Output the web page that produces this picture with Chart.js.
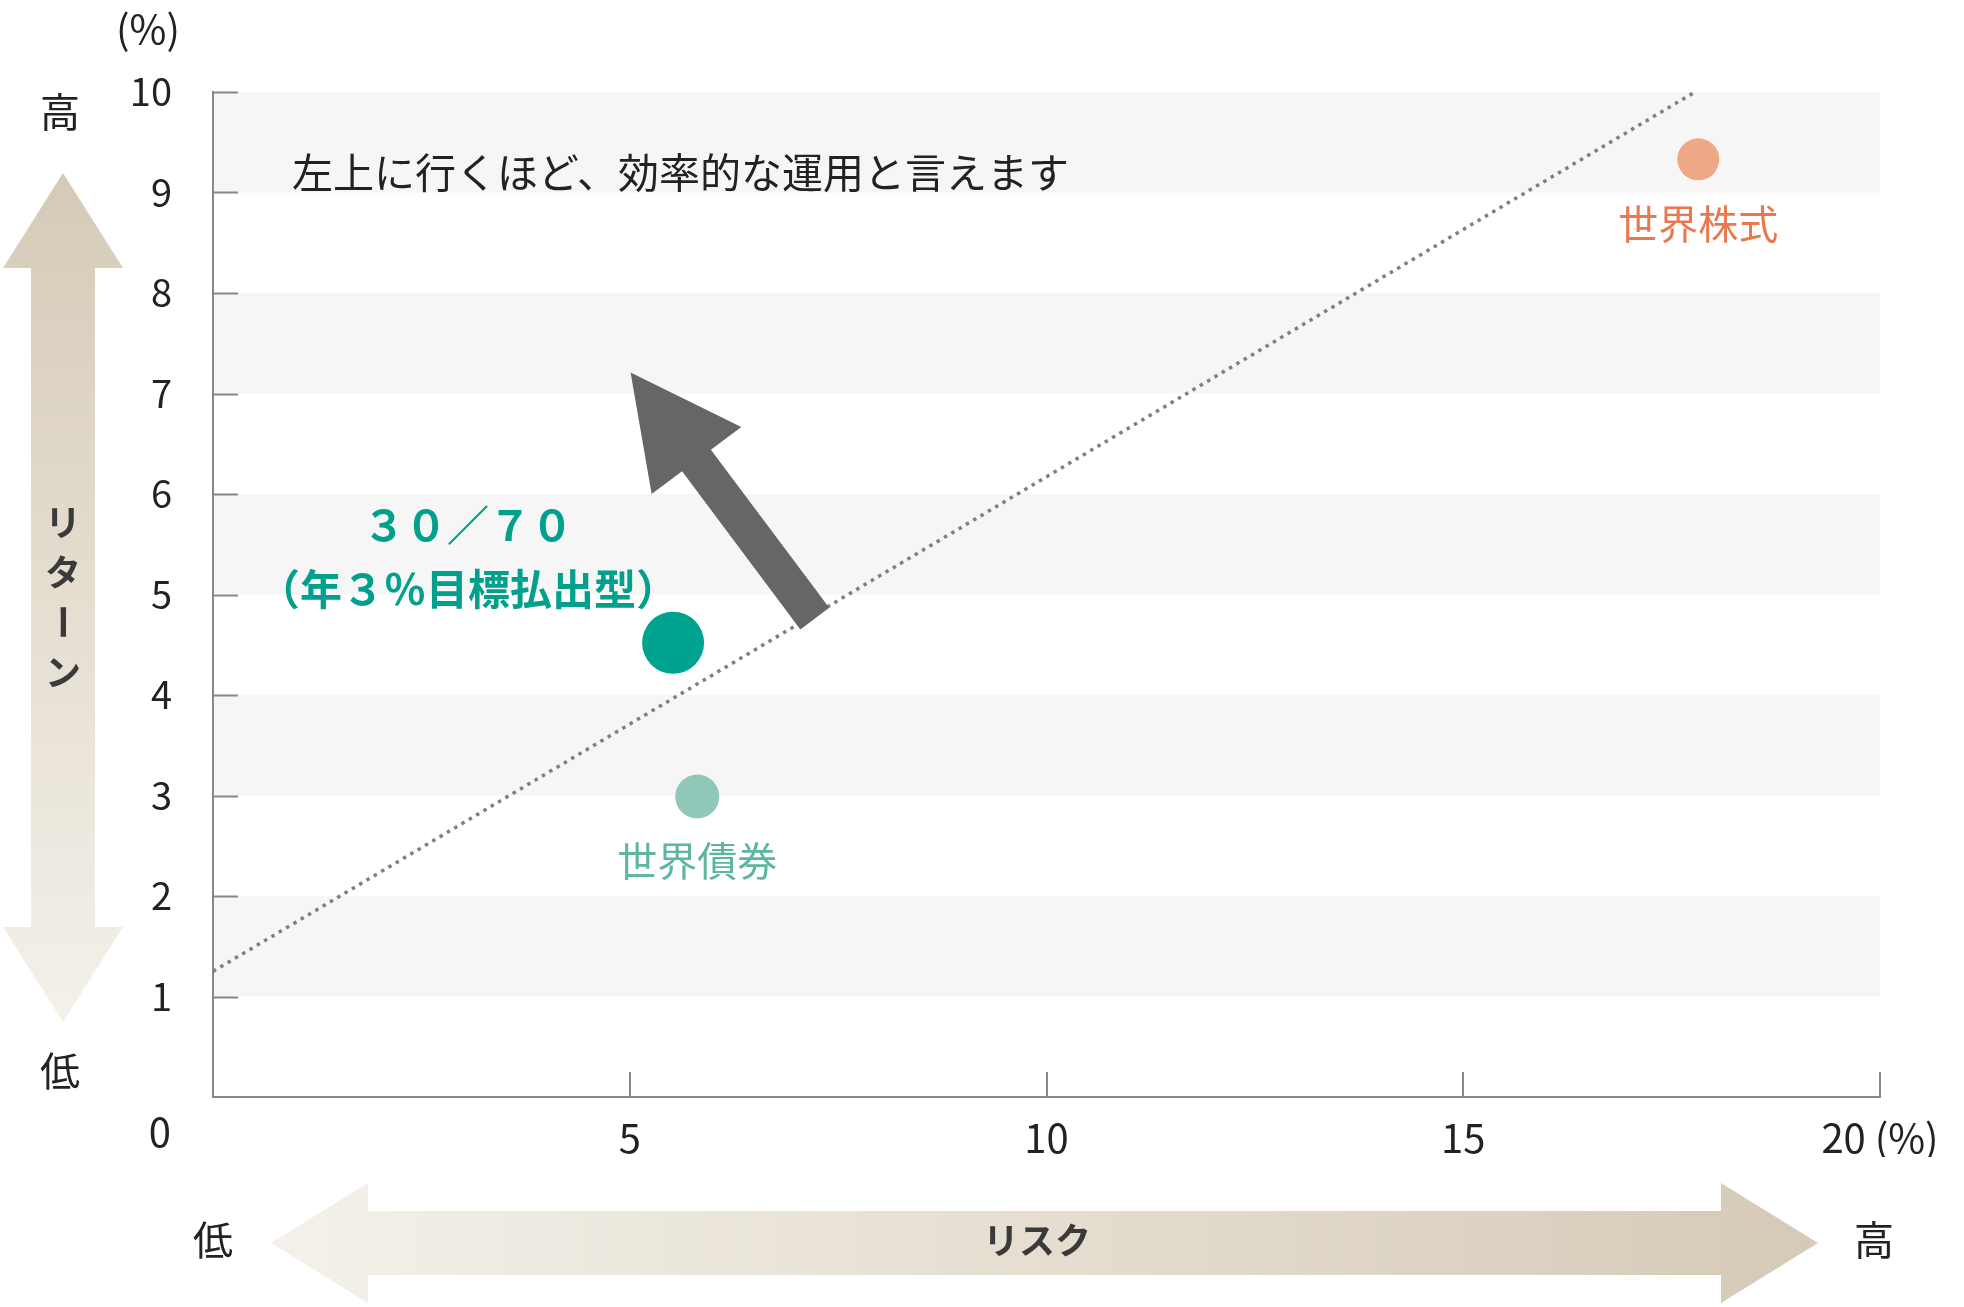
<!DOCTYPE html>
<html lang="ja">
<head>
<meta charset="utf-8">
<title>リスクとリターン</title>
<script src="https://cdn.jsdelivr.net/npm/chart.js@4.4.1/dist/chart.umd.min.js"></script>
<style>
  html, body { margin: 0; padding: 0; background: #fff; }
  #wrap { width: 1964px; height: 1307px; }
</style>
</head>
<body>
<div id="wrap"><canvas id="chart" width="1964" height="1307"></canvas></div>
<script>
const FONT = '"Noto Sans CJK JP", "Noto Sans", sans-serif';

// points: risk (x) / return (y), in %
const assetNames = ["世界株式", "３０／７０", "世界債券"];
const assetNotes = ["", "（年３％目標払出型）", ""];
const riskValues = [17.82, 5.52, 5.81];
const returnValues = [9.33, 4.52, 2.99];

// dotted reference line
const lineRisk = [0, 17.78];
const lineReturn = [1.25, 10];

// big grey arrow (tail -> tip)
const arrowRisk = [7.22, 5.01];
const arrowReturn = [4.76, 7.21];

// axes
const xTicks = [0, 5, 10, 15, 20];
const yTicks = [0, 1, 2, 3, 4, 5, 6, 7, 8, 9, 10];
const bandRanges = [[1, 2], [3, 4], [5, 6], [7, 8], [9, 10]];

const pointColors = ["#eea886", "#00a38f", "#8fc7b9"];
const pointSizes = [21, 31, 22];
const labelColors = ["#e8794f", "#00a08c", "#5db6a4"];

function arrowShape(ctx, x1, y1, x2, y2, shaftW, headL, headW) {
  // tail (x1,y1) -> tip (x2,y2)
  const a = Math.atan2(y2 - y1, x2 - x1);
  const len = Math.hypot(x2 - x1, y2 - y1);
  ctx.save();
  ctx.translate(x1, y1);
  ctx.rotate(a);
  ctx.beginPath();
  ctx.moveTo(0, -shaftW / 2);
  ctx.lineTo(len - headL, -shaftW / 2);
  ctx.lineTo(len - headL, -headW / 2);
  ctx.lineTo(len, 0);
  ctx.lineTo(len - headL, headW / 2);
  ctx.lineTo(len - headL, shaftW / 2);
  ctx.lineTo(0, shaftW / 2);
  ctx.closePath();
  ctx.restore();
}

function doubleArrow(ctx, x1, y1, x2, y2, shaftW, headL, headW) {
  const a = Math.atan2(y2 - y1, x2 - x1);
  const len = Math.hypot(x2 - x1, y2 - y1);
  ctx.save();
  ctx.translate(x1, y1);
  ctx.rotate(a);
  ctx.beginPath();
  ctx.moveTo(0, 0);
  ctx.lineTo(headL, -headW / 2);
  ctx.lineTo(headL, -shaftW / 2);
  ctx.lineTo(len - headL, -shaftW / 2);
  ctx.lineTo(len - headL, -headW / 2);
  ctx.lineTo(len, 0);
  ctx.lineTo(len - headL, headW / 2);
  ctx.lineTo(len - headL, shaftW / 2);
  ctx.lineTo(headL, shaftW / 2);
  ctx.lineTo(headL, headW / 2);
  ctx.closePath();
  ctx.restore();
}

const decor = {
  id: "decor",
  beforeDraw(chart) {
    const { ctx, chartArea: ca, scales: { y } } = chart;
    ctx.save();
    ctx.fillStyle = "#fff";
    ctx.fillRect(0, 0, chart.width, chart.height);
    ctx.fillStyle = "#f6f6f6";
    bandRanges.forEach(([lo, hi]) => {
      const top = y.getPixelForValue(hi);
      const bot = y.getPixelForValue(lo);
      ctx.fillRect(ca.left, top, ca.right - ca.left, bot - top);
    });
    ctx.restore();
  },
  afterDatasetsDraw(chart) {
    const { ctx, chartArea: ca, scales: { x, y } } = chart;
    ctx.save();

    // inward tick marks
    ctx.strokeStyle = "#888";
    ctx.lineWidth = 2;
    ctx.beginPath();
    yTicks.filter(v => v > 0).forEach(v => {
      const py = Math.round(y.getPixelForValue(v)) + 0.5;
      ctx.moveTo(ca.left, py);
      ctx.lineTo(ca.left + 25, py);
    });
    xTicks.filter(v => v > 0).forEach(v => {
      const px = Math.round(x.getPixelForValue(v));
      ctx.moveTo(px, ca.bottom);
      ctx.lineTo(px, ca.bottom - 25);
    });
    ctx.stroke();

    // grey arrow
    arrowShape(ctx,
      x.getPixelForValue(arrowRisk[0]), y.getPixelForValue(arrowReturn[0]),
      x.getPixelForValue(arrowRisk[1]), y.getPixelForValue(arrowReturn[1]),
      36, 110, 112);
    ctx.fillStyle = "#666";
    ctx.fill();

    // point labels
    const meta = chart.getDatasetMeta(1);
    ctx.textAlign = "center";
    ctx.textBaseline = "middle";
    meta.data.forEach((pt, i) => {
      ctx.fillStyle = labelColors[i];
      if (assetNotes[i]) {
        ctx.font = "700 42px " + FONT;
        ctx.fillText(assetNames[i], pt.x - 205, pt.y - 118);
        ctx.fillText(assetNotes[i], pt.x - 205, pt.y - 54);
      } else {
        ctx.font = "400 40px " + FONT;
        ctx.fillText(assetNames[i], pt.x, pt.y + 64);
      }
    });

    // note
    ctx.fillStyle = "#222";
    ctx.font = "400 41px " + FONT;
    ctx.textAlign = "left";
    ctx.fillText("左上に行くほど、効率的な運用と言えます", ca.left + 79, y.getPixelForValue(9.2));
    ctx.restore();
  },
  afterDraw(chart) {
    const { ctx, chartArea: ca } = chart;
    ctx.save();
    ctx.fillStyle = "#222";
    ctx.textBaseline = "middle";
    ctx.font = "400 40px " + FONT;

    // origin and unit labels
    ctx.textAlign = "right";
    ctx.fillText("0", ca.left - 42, ca.bottom + 35);
    ctx.textAlign = "center";
    ctx.fillText("(%)", 148, 29);

    // vertical return arrow
    let g = ctx.createLinearGradient(0, 173, 0, 1022);
    g.addColorStop(0, "#d5cab7");
    g.addColorStop(1, "#f4f1ea");
    doubleArrow(ctx, 63, 1022, 63, 173, 64, 95, 120);
    ctx.fillStyle = g;
    ctx.fill();

    // horizontal risk arrow
    g = ctx.createLinearGradient(271, 0, 1818, 0);
    g.addColorStop(0, "#f4f1ea");
    g.addColorStop(1, "#d5cab7");
    doubleArrow(ctx, 271, 1243, 1818, 1243, 64, 97, 120);
    ctx.fillStyle = g;
    ctx.fill();

    ctx.fillStyle = "#222";
    ctx.font = "400 40px " + FONT;
    ctx.fillText("高", 60, 112);
    ctx.fillText("低", 60, 1071);
    ctx.fillText("低", 213, 1240);
    ctx.fillText("高", 1874, 1240);

    ctx.fillStyle = "#3a3a3a";
    ctx.font = "700 36px " + FONT;
    ctx.fillText("リスク", 1037, 1240);
    const vchars = ["リ", "タ", "ー", "ン"];
    vchars.forEach((c, i) => {
      const cy = 522 + i * 50;
      if (c === "ー") {
        ctx.save();
        ctx.translate(63, cy);
        ctx.rotate(Math.PI / 2);
        ctx.fillText(c, 0, 0);
        ctx.restore();
      } else {
        ctx.fillText(c, 63, cy);
      }
    });
    ctx.restore();
  }
};

new Chart(document.getElementById("chart"), {
  type: "scatter",
  data: {
    datasets: [
      {
        type: "line",
        data: lineRisk.map((v, i) => ({ x: v, y: lineReturn[i] })),
        borderColor: "#808080",
        borderWidth: 3.5,
        borderDash: [3.5, 5],
        borderCapStyle: "butt",
        pointRadius: 0,
        fill: false,
        order: 2
      },
      {
        data: riskValues.map((v, i) => ({ x: v, y: returnValues[i] })),
        backgroundColor: pointColors,
        borderWidth: 0,
        pointRadius: pointSizes,
        pointHoverRadius: pointSizes,
        order: 1
      }
    ]
  },
  options: {
    responsive: false,
    animation: false,
    devicePixelRatio: 1,
    events: [],
    layout: { padding: { left: 0, top: 92, right: 84, bottom: 150 } },
    plugins: { legend: { display: false }, tooltip: { enabled: false } },
    scales: {
      x: {
        type: "linear",
        min: 0,
        max: 20,
        afterBuildTicks: s => { s.ticks = xTicks.map(v => ({ value: v })); },
        afterFit: s => { s.height = 60; },
        grid: { display: false, drawTicks: false },
        border: { display: true, color: "#888", width: 2 },
        ticks: {
          padding: 17,
          autoSkip: false,
          maxRotation: 0,
          color: "#222",
          font: { family: FONT, size: 40 },
          callback: v => v === 0 ? "" : (v === 20 ? "20 (%)" : String(v))
        }
      },
      y: {
        type: "linear",
        min: 0,
        max: 10,
        afterBuildTicks: s => { s.ticks = yTicks.map(v => ({ value: v })); },
        afterFit: s => { s.width = 213; },
        grid: { display: false, drawTicks: false },
        border: { display: true, color: "#888", width: 2 },
        ticks: {
          padding: 41,
          autoSkip: false,
          color: "#222",
          font: { family: FONT, size: 38 },
          callback: v => v === 0 ? "" : String(v)
        }
      }
    }
  },
  plugins: [decor]
});
</script>
</body>
</html>
